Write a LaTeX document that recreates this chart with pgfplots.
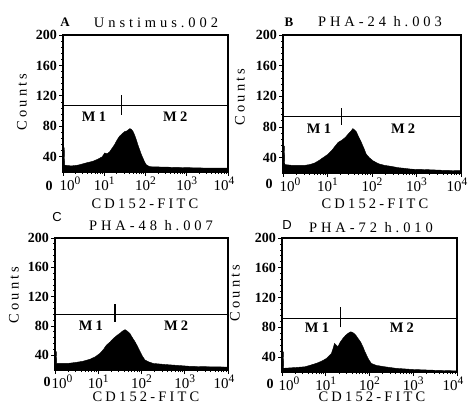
\documentclass[border=0pt]{standalone}
\usepackage{fontspec}
\setmainfont{Liberation Serif}
\newfontfamily\spc[LetterSpace=22]{Liberation Serif}
\newfontfamily\spt[LetterSpace=27]{Liberation Serif}
\newfontfamily\lsans{Liberation Sans}
\newcommand\tp[1]{10\raisebox{0.8ex}{\fontsize{11.5}{11.5}\selectfont #1}}
\usepackage{pgfplots}
\pgfplotsset{compat=1.18}
\tikzset{
  fhist/.style={fill=black, draw=black, line width=0.4pt},
  gate/.style={black, line width=1.3pt},
  mlab/.style={font=\spc\fontsize{14.5}{14.5}\selectfont\bfseries},
  zlab/.style={font=\fontsize{14}{14}\selectfont\bfseries},
}
\pgfplotsset{fcs/.style={
  scale only axis, xmin=0, xmax=4, ymin=20, ymax=200,
  clip mode=individual,
  axis line style={line width=1.2pt},
  xtick={0,1,2,3,4},
  xticklabels={\hspace*{14pt}\tp{0},\tp{1},\tp{2},\tp{3},\tp{4}\hspace*{8pt}},
  minor xtick={0.301,0.477,0.602,0.699,0.778,0.845,0.903,0.954,
    1.301,1.477,1.602,1.699,1.778,1.845,1.903,1.954,
    2.301,2.477,2.602,2.699,2.778,2.845,2.903,2.954,
    3.301,3.477,3.602,3.699,3.778,3.845,3.903,3.954},
  ytick={40,80,120,160,200},
  yticklabels={40,80,120,160,200},
  minor y tick num=4,
  tick align=outside, tick pos=left,
  major tick length=4pt, minor tick length=2pt,
  every tick/.style={line width=0.8pt, black},
  xticklabel style={font=\fontsize{15}{15}\selectfont, inner sep=1pt},
  yticklabel style={font=\fontsize{14}{14}\selectfont\bfseries, inner sep=2pt},
}}
\pgfplotstableread{
d c
0 52
0.03 52
0.04 29
0.2 28
0.36 29
0.5 31
0.6 32.5
0.72 34
0.85 37
0.95 40
1.01 45
1.07 44
1.13 46.5
1.2 52
1.25 56
1.31 62
1.37 67
1.43 70
1.49 73
1.55 74
1.62 77
1.66 76
1.70 73
1.74 68
1.78 62
1.82 55
1.86 49
1.90 43
1.94 38
1.98 33
2.02 29.5
2.1 27
2.4 26.5
2.8 26
3.2 25.5
3.6 25
4 25
}\dataA
\pgfplotstableread{
d c
0 55
0.03 55
0.04 31
0.2 30
0.49 30
0.6 31
0.71 33
0.8 36
0.9 40
1.0 44
1.09 49
1.17 55
1.24 60
1.3 62
1.35 64
1.41 67
1.46 70.5
1.52 74
1.57 78
1.61 76
1.65 73.6
1.70 67
1.76 60
1.82 52
1.87 44.6
1.94 40
2.02 36
2.15 32
2.28 30
2.45 28.5
2.58 27
2.75 26
2.88 25
3.2 24.5
3.6 23.5
4 23
}\dataB
\pgfplotstableread{
d c
0 45
0.03 45
0.04 29
0.3 29
0.5 30.5
0.65 32
0.81 34.7
0.93 38
1.04 42.7
1.12 48
1.19 54
1.27 58
1.35 63
1.43 67
1.5 70
1.56 73
1.62 75
1.67 73
1.73 70
1.79 64
1.85 58.5
1.91 52
1.97 45
2.02 39
2.08 33.7
2.17 31
2.27 29
2.45 28
2.66 27
2.9 26
3.12 25
3.5 24.5
4 24
}\dataC
\pgfplotstableread{
d c
0 47
0.03 47
0.04 25
0.3 26
0.52 27
0.67 29.5
0.82 32.4
0.92 35
1.01 38
1.08 42
1.13 45
1.17 52
1.20 58.5
1.24 56
1.28 54
1.33 60
1.39 65
1.45 69
1.51 72
1.57 74
1.62 73
1.68 70
1.74 65
1.80 60
1.85 54
1.89 48
1.93 43
1.98 37
2.04 31.6
2.15 29
2.35 27
2.6 25
2.96 23.5
3.4 22.5
4 21.5
}\dataD
\begin{document}
\begin{tikzpicture}[x=1pt,y=1pt]
\path[use as bounding box] (0,0) rectangle (468,415);
% Panel A
\begin{axis}[fcs, at={(63pt,243pt)}, anchor=south west, width=165pt, height=137pt]
\addplot[fhist] table[x=d,y=c] {\dataA} \closedcycle;
\addplot[gate] coordinates {(0,107) (4,107)};
\addplot[gate] coordinates {(1.41,95) (1.41,121)};
\node[mlab] at (axis cs:0.75,93) {M1};
\node[mlab] at (axis cs:2.72,93) {M2};
\node[zlab] at (rel axis cs:0,0) [xshift=-14pt,yshift=-14pt] {0};
\end{axis}
% Panel B
\begin{axis}[fcs, at={(283pt,242pt)}, anchor=south west, width=178pt, height=138pt]
\addplot[fhist] table[x=d,y=c] {\dataB} \closedcycle;
\addplot[gate] coordinates {(0,94) (4,94)};
\addplot[gate] coordinates {(1.32,83) (1.32,105)};
\node[mlab] at (axis cs:0.81,78) {M1};
\node[mlab] at (axis cs:2.7,78) {M2};
\node[zlab] at (rel axis cs:0,0) [xshift=-14pt,yshift=-11pt] {0};
\end{axis}
% Panel C
\begin{axis}[fcs, at={(55pt,45pt)}, anchor=south west, width=173pt, height=132pt]
\addplot[fhist] table[x=d,y=c] {\dataC} \closedcycle;
\addplot[gate] coordinates {(0,96) (4,96)};
\addplot[gate] coordinates {(1.39,86) (1.39,110)};
\node[mlab] at (axis cs:0.83,80) {M1};
\node[mlab] at (axis cs:2.8,80) {M2};
\node[zlab] at (rel axis cs:0,0) [xshift=-8pt,yshift=-12pt] {0};
\end{axis}
% Panel D
\begin{axis}[fcs, at={(282pt,43pt)}, anchor=south west, width=175pt, height=134pt]
\addplot[fhist] table[x=d,y=c] {\dataD} \closedcycle;
\addplot[gate] coordinates {(0,92) (4,92)};
\addplot[gate] coordinates {(1.33,80) (1.33,107)};
\node[mlab] at (axis cs:0.8,79) {M1};
\node[mlab] at (axis cs:2.74,79) {M2};
\node[zlab] at (rel axis cs:0,0) [xshift=-12pt,yshift=-12pt] {0};
\end{axis}
% titles and labels
\node[font=\fontsize{13}{13}\selectfont\bfseries] at (65,393) {A};
\node[font=\spt\fontsize{14.5}{14.5}\selectfont] at (156,392) {Unstimus.002};
\node[font=\fontsize{13}{13}\selectfont\bfseries] at (289,393) {B};
\node[font=\spt\fontsize{14.5}{14.5}\selectfont] at (380,393) {PHA-24 h.003};
\node[font=\lsans\fontsize{13}{13}\selectfont] at (57,198) {C};
\node[font=\spt\fontsize{14.5}{14.5}\selectfont] at (151,189) {PHA-48 h.007};
\node[font=\lsans\fontsize{13}{13}\selectfont] at (287,190) {D};
\node[font=\spt\fontsize{14.5}{14.5}\selectfont] at (371,187) {PHA-72 h.010};
\node[font=\spc\fontsize{14.5}{14.5}\selectfont] at (145,211) {CD152-FITC};
\node[font=\spc\fontsize{14.5}{14.5}\selectfont] at (375,211) {CD152-FITC};
\node[font=\spc\fontsize{14.5}{14.5}\selectfont] at (146,18) {CD152-FITC};
\node[font=\spc\fontsize{14.5}{14.5}\selectfont] at (372,18) {CD152-FITC};
\node[font=\spc\fontsize{14.5}{14.5}\selectfont, rotate=90] at (22,313) {Counts};
\node[font=\spc\fontsize{14.5}{14.5}\selectfont, rotate=90] at (240,318) {Counts};
\node[font=\spc\fontsize{14.5}{14.5}\selectfont, rotate=90] at (14,120) {Counts};
\node[font=\spc\fontsize{14.5}{14.5}\selectfont, rotate=90] at (235,122) {Counts};
\end{tikzpicture}
\end{document}
